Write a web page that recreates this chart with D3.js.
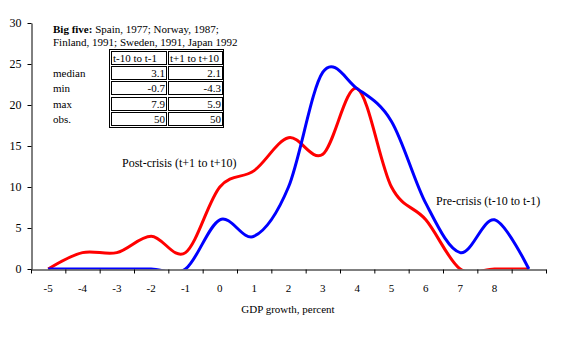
<!DOCTYPE html>
<html lang="en">
<head>
<meta charset="utf-8">
<script src="https://d3js.org/d3.v7.min.js"></script>
<title>GDP growth before and after big five crises</title>
<style>
  body { margin: 0; background: #fff; }
  svg text { font-family: "Liberation Serif", "Times New Roman", serif; fill: #000; }
</style>
</head>
<body>
<script>
  // growth rate categories (percent) and share of observations in each (percent)
  var growth = [-5, -4, -3, -2, -1, 0, 1, 2, 3, 4, 5, 6, 7, 8, 9];
  var preCrisis  = [0, 0, 0, 0, 0, 6, 4, 10, 24, 22, 18, 8, 2, 6, 0];
  var postCrisis = [0, 2, 2, 4, 2, 10, 12, 16, 14, 22, 10, 6, 0, 0, 0];

  var xLabels = [-5, -4, -3, -2, -1, 0, 1, 2, 3, 4, 5, 6, 7, 8];
  var yTicks = [0, 5, 10, 15, 20, 25, 30];

  // summary table
  var tableHead = ["t-10 to t-1", "t+1 to t+10"];
  var tableRows = ["median", "min", "max", "obs."];
  var preStats  = ["3.1", "-0.7", "7.9", "50"];
  var postStats = ["2.1", "-4.3", "5.9", "50"];

  var width = 575, height = 337;
  var plotLeft = 31, plotRight = 546, plotTop = 23, plotBottom = 269;

  var svg = d3.select("body").append("svg")
      .attr("width", width)
      .attr("height", height);

  var x = d3.scaleLinear().domain([-5.5, 9.5]).range([plotLeft, plotRight]);
  var y = d3.scaleLinear().domain([0, 30]).range([plotBottom, plotTop]);

  // curves are cut off at the zero line
  svg.append("defs").append("clipPath").attr("id", "plot")
    .append("rect")
      .attr("x", plotLeft).attr("y", 0)
      .attr("width", plotRight - plotLeft).attr("height", plotBottom + 0.3);

  var line = d3.line()
      .x(function(d, i) { return x(growth[i]); })
      .y(function(d) { return y(d); })
      .curve(d3.curveCardinal.tension(0));

  var g = svg.append("g").attr("clip-path", "url(#plot)");

  g.append("path")
      .datum(postCrisis)
      .attr("d", line)
      .attr("fill", "none")
      .attr("stroke", "#ff0000")
      .attr("stroke-width", 3);

  g.append("path")
      .datum(preCrisis)
      .attr("d", line)
      .attr("fill", "none")
      .attr("stroke", "#0000ff")
      .attr("stroke-width", 3);

  // axes
  var halfTicks = d3.range(-5.5, 10, 1);
  var xAxis = svg.append("g")
      .attr("transform", "translate(0," + (plotBottom + 0.5) + ")")
      .call(d3.axisBottom(x).tickValues(halfTicks).tickFormat("").tickSize(4).tickSizeOuter(0));
  xAxis.selectAll("line, path").attr("stroke", "#000");

  svg.selectAll(".xlab")
    .data(xLabels)
    .join("text")
      .attr("class", "xlab")
      .attr("x", function(d) { return x(d); })
      .attr("y", 292)
      .attr("text-anchor", "middle")
      .attr("font-size", 11)
      .text(function(d) { return d; });

  var yAxis = svg.append("g")
      .attr("transform", "translate(" + (plotLeft + 0.5) + ",0)")
      .call(d3.axisLeft(y).tickValues(yTicks).tickSize(4).tickSizeOuter(0).tickPadding(6));
  yAxis.selectAll("line, path").attr("stroke", "#000");
  yAxis.selectAll("text").attr("font-size", 12);

  svg.append("text")
      .attr("x", 288).attr("y", 313)
      .attr("text-anchor", "middle")
      .attr("font-size", 11)
      .text("GDP growth, percent");

  // series labels
  svg.append("text")
      .attr("x", 122).attr("y", 167)
      .attr("font-size", 12)
      .text("Post-crisis (t+1 to t+10)");

  svg.append("text")
      .attr("x", 436).attr("y", 205)
      .attr("font-size", 12)
      .text("Pre-crisis (t-10 to t-1)");

  // title lines
  var t1 = svg.append("text").attr("x", 53).attr("y", 33).attr("font-size", 11);
  t1.append("tspan").attr("font-weight", "bold").text("Big five:");
  t1.append("tspan").text(" Spain, 1977; Norway, 1987;");
  svg.append("text").attr("x", 53).attr("y", 46).attr("font-size", 11)
      .text("Finland, 1991; Sweden, 1991, Japan 1992");

  // table
  var tx = 109, ty = 49, colX = [111, 168], colW = [55, 54], rowY = [51, 66, 81, 97, 112], rowH = 13;
  svg.append("rect")
      .attr("x", tx + 0.5).attr("y", ty + 0.5)
      .attr("width", 114).attr("height", 78)
      .attr("fill", "#fff").attr("stroke", "#000");

  var cells = [];
  tableHead.forEach(function(h, c) { cells.push({r: 0, c: c, text: h, head: true}); });
  tableRows.forEach(function(name, r) {
    cells.push({r: r + 1, c: 0, text: preStats[r]});
    cells.push({r: r + 1, c: 1, text: postStats[r]});
  });

  svg.selectAll(".cell")
    .data(cells)
    .join("rect")
      .attr("class", "cell")
      .attr("x", function(d) { return colX[d.c] + 0.5; })
      .attr("y", function(d) { return rowY[d.r] + 0.5; })
      .attr("width", function(d) { return colW[d.c]; })
      .attr("height", rowH)
      .attr("fill", "none").attr("stroke", "#000");

  svg.selectAll(".celltext")
    .data(cells)
    .join("text")
      .attr("class", "celltext")
      .attr("x", function(d) { return d.head ? colX[d.c] + 2 : colX[d.c] + colW[d.c] - 1; })
      .attr("y", function(d) { return rowY[d.r] + 11; })
      .attr("text-anchor", function(d) { return d.head ? "start" : "end"; })
      .attr("font-size", 11)
      .text(function(d) { return d.text; });

  svg.selectAll(".rowname")
    .data(tableRows)
    .join("text")
      .attr("class", "rowname")
      .attr("x", 53)
      .attr("y", function(d, i) { return rowY[i + 1] + 11; })
      .attr("font-size", 11)
      .text(function(d) { return d; });
</script>
</body>
</html>
